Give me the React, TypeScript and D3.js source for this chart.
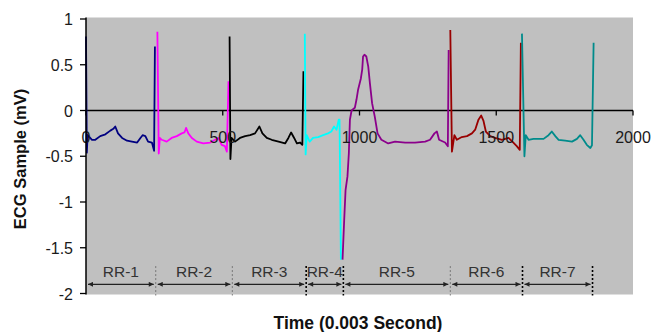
import React from "react";
import * as d3 from "d3";

// [sample index, mV], one array per RR interval
type Pt = [number, number];

const rr1: Pt[] = [
    [0, 0.81], [3, -0.46], [6, -0.27], [22, -0.32], [34, -0.32], [52, -0.28], [71, -0.26],
    [89, -0.22], [100, -0.2], [107, -0.175], [117, -0.25], [132, -0.3], [150, -0.33],
    [168, -0.34], [187, -0.35], [199, -0.3], [207, -0.27], [217, -0.28], [227, -0.34],
    [241, -0.35], [249, -0.44], [252, 0.7],
];
const rr2: Pt[] = [
    [261, 0.86], [266, -0.47], [270, -0.3], [277, -0.32], [295, -0.34], [313, -0.3],
    [332, -0.28], [350, -0.25], [360, -0.24], [366, -0.19], [374, -0.25], [387, -0.3],
    [405, -0.34], [429, -0.36], [454, -0.35], [472, -0.32], [484, -0.3], [496, -0.375],
    [508, -0.39], [515, -0.45], [521, 0.32],
];
const rr3: Pt[] = [
    [525, 0.81], [528, -0.53], [532, -0.3], [545, -0.34], [563, -0.3], [582, -0.28],
    [600, -0.27], [618, -0.25], [634, -0.175], [645, -0.25], [661, -0.3], [679, -0.32],
    [704, -0.34], [728, -0.36], [740, -0.3], [750, -0.24], [761, -0.3], [771, -0.36],
    [783, -0.35], [791, -0.375], [795, 0.43],
];
const rr4: Pt[] = [
    [800, 0.84], [803, -0.48], [807, -0.27], [818, -0.34], [830, -0.3], [849, -0.29],
    [867, -0.27], [885, -0.25], [897, -0.23], [907, -0.175], [916, -0.21], [924, -0.1],
    [927, -0.1], [932, -1.63],
];
const rr5: Pt[] = [
    [938, -1.63], [944, -1.2], [949, -0.87], [956, -0.72], [961, -0.47], [965, -0.1],
    [971, 0.0], [983, 0.03], [989, 0.12], [995, 0.23], [1005, 0.35], [1010, 0.45],
    [1013, 0.59], [1018, 0.61], [1025, 0.59], [1032, 0.48], [1038, 0.3], [1046, 0.08],
    [1056, -0.07], [1066, -0.25], [1080, -0.32], [1105, -0.36], [1130, -0.34],
    [1167, -0.35], [1203, -0.35], [1240, -0.34], [1258, -0.32], [1274, -0.25],
    [1283, -0.23], [1291, -0.32], [1313, -0.35], [1323, -0.39], [1326, 0.66],
];
const rr6: Pt[] = [
    [1332, 0.88], [1338, -0.45], [1347, -0.27], [1356, -0.32], [1374, -0.29], [1393, -0.28],
    [1411, -0.25], [1423, -0.21], [1435, -0.1], [1445, -0.055], [1453, -0.11], [1462, -0.23],
    [1478, -0.28], [1496, -0.3], [1521, -0.32], [1545, -0.3], [1559, -0.34], [1575, -0.39],
    [1586, -0.43], [1590, 0.74],
];
const rr7: Pt[] = [
    [1594, 0.84], [1603, -0.5], [1608, -0.27], [1618, -0.32], [1636, -0.31], [1655, -0.31],
    [1673, -0.31], [1691, -0.27], [1703, -0.23], [1716, -0.28], [1728, -0.32], [1752, -0.33],
    [1777, -0.34], [1795, -0.31], [1807, -0.27], [1819, -0.32], [1831, -0.375], [1844, -0.41],
    [1850, -0.38], [1856, 0.74],
];

const segments: Pt[][] = [rr1, rr2, rr3, rr4, rr5, rr6, rr7];
const segmentColors = ["#000080", "#ff00ff", "#000000", "#00ffff", "#8b008b", "#990000", "#008b8b"];

const rrLabels = ["RR-1", "RR-2", "RR-3", "RR-4", "RR-5", "RR-6", "RR-7"];
const rrBounds = [0, 255, 535, 805, 941, 1332, 1596, 1852];
const rrBoundBold = [false, false, false, true, true, false, true, true];

const xTicks = [0, 500, 1000, 1500, 2000];
const xTickLabels = ["0", "500", "1000", "1500", "2000"];
const yTicks = [1, 0.5, 0, -0.5, -1, -1.5, -2];
const yTickLabels = ["1", "0.5", "0", "-0.5", "-1", "-1.5", "-2"];

const W = 654;
const H = 332;
const font = "'Liberation Sans', Arial, sans-serif";

const App: React.FC = () => {
    const x = d3.scaleLinear().domain([0, 2000]).range([86, 633]);
    const y = d3.scaleLinear().domain([-2, 1]).range([293.5, 19]);

    const line = d3.line<Pt>()
        .x(d => x(d[0]))
        .y(d => y(d[1]));

    const arrowY = y(-1.9);
    const labelY = y(-1.76);

    return (
        <svg width={W} height={H} style={{position: "absolute", left: 0, top: 0}}>
            <defs>
                <marker id="ah" viewBox="0 0 6 6" refX="6" refY="3" markerWidth="6" markerHeight="5"
                        markerUnits="userSpaceOnUse" orient="auto-start-reverse">
                    <path d="M0,0 L6,3 L0,6 z" fill="#222"/>
                </marker>
            </defs>
            <rect x={0} y={0} width={W} height={H} fill="#fff"/>
            <rect x={x(0)} y={17.5} width={x(2000) - x(0)} height={294.5 - 17.5} fill="#c0c0c0"/>

            {/* x axis crosses at 0 mV */}
            <line x1={x(0)} x2={x(2000)} y1={y(0)} y2={y(0)} stroke="#000" strokeWidth={1.3}/>
            {xTicks.map(t => (
                <line key={t} x1={x(t)} x2={x(t)} y1={y(0)} y2={y(0) + 5} stroke="#000" strokeWidth={1.3}/>
            ))}

            {segments.map((s, i) => (
                <path key={i} d={line(s) ?? ""} fill="none" stroke={segmentColors[i]}
                      strokeWidth={1.8} strokeLinejoin="round"/>
            ))}

            {xTicks.map((t, i) => (
                <text key={t} x={x(t)} y={y(0) + 32} textAnchor="middle" fontFamily={font}
                      fontSize={16} fill="#1a1a1a">{xTickLabels[i]}</text>
            ))}

            {/* y axis */}
            <line x1={x(0)} x2={x(0)} y1={17.5} y2={294.5} stroke="#000" strokeWidth={1.5}/>
            {yTicks.map((t, i) => (
                <g key={t}>
                    <line x1={x(0) - 6} x2={x(0)} y1={y(t)} y2={y(t)} stroke="#000" strokeWidth={1.3}/>
                    <text x={x(0) - 13} y={y(t) + 6} textAnchor="end" fontFamily={font}
                          fontSize={16} fill="#1a1a1a">{yTickLabels[i]}</text>
                </g>
            ))}

            {/* RR interval annotations */}
            {rrBounds.slice(1).map((b, i) => (
                <line key={b} x1={x(b)} x2={x(b)} y1={y(-1.7)} y2={y(-2) + 2}
                      stroke={rrBoundBold[i + 1] ? "#000" : "#777"}
                      strokeWidth={rrBoundBold[i + 1] ? 1.6 : 1}
                      strokeDasharray="2,2"/>
            ))}
            {rrLabels.map((l, i) => {
                const a = x(rrBounds[i]) + 2;
                const b = x(rrBounds[i + 1]) - 2;
                return (
                    <g key={l}>
                        <line x1={a} x2={b} y1={arrowY} y2={arrowY} stroke="#222" strokeWidth={1.4}
                              markerStart="url(#ah)" markerEnd="url(#ah)"/>
                        <text x={(a + b) / 2} y={labelY + 5} textAnchor="middle" fontFamily={font}
                              fontSize={15.5} fill="#333">{l}</text>
                    </g>
                );
            })}

            <text transform={`translate(26,159) rotate(-90)`} textAnchor="middle" fontFamily={font}
                  fontSize={16.5} fontWeight="bold" fill="#111">ECG Sample (mV)</text>
            <text x={358} y={329} textAnchor="middle" fontFamily={font} fontSize={17.5}
                  fontWeight="bold" fill="#111">Time (0.003 Second)</text>
        </svg>
    );
};

export default App;
